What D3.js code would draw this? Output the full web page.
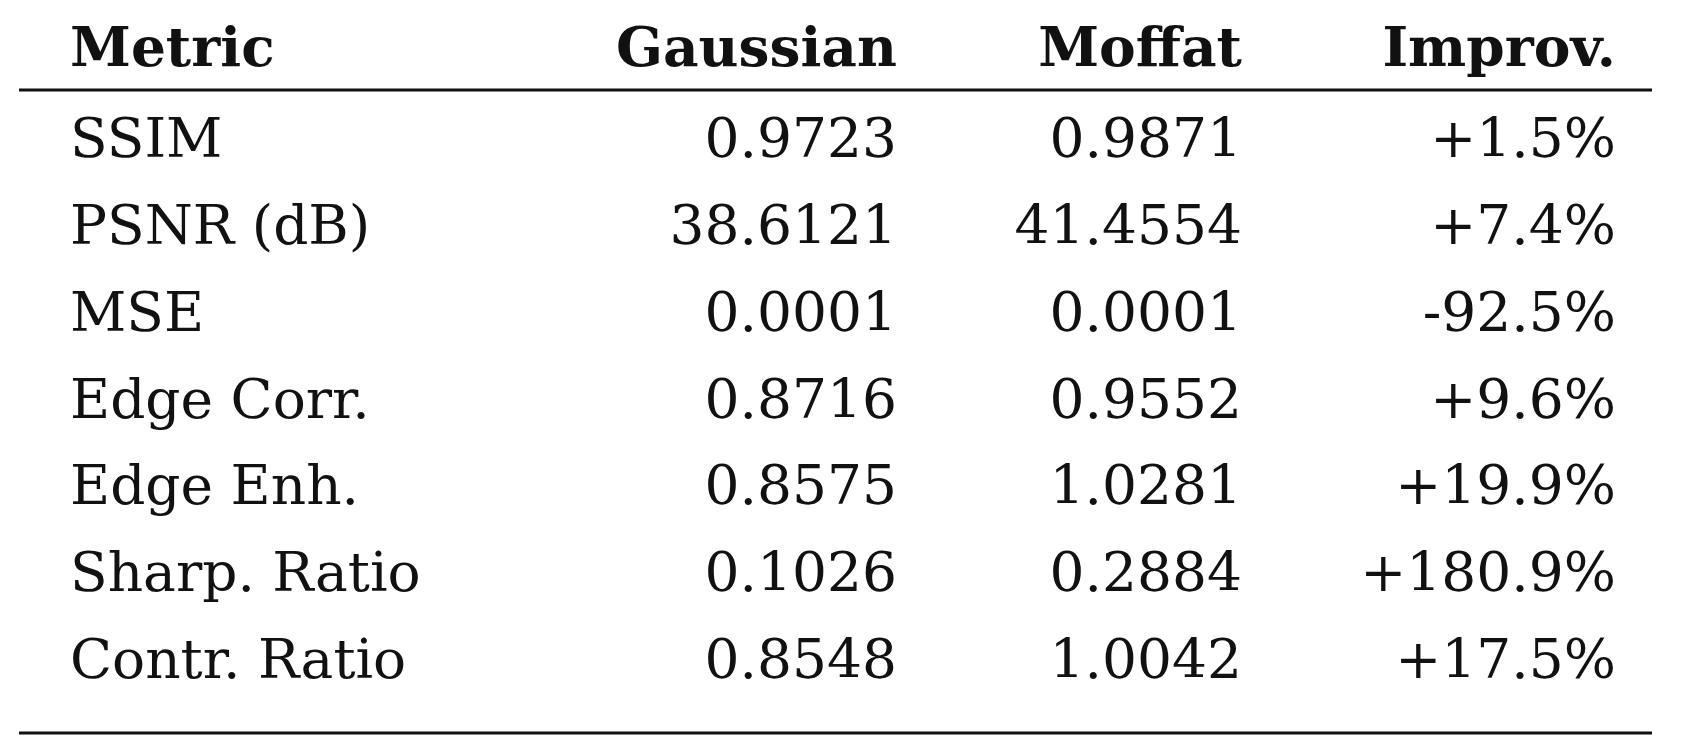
<!DOCTYPE html>
<html>
<head>
<meta charset="utf-8">
<script src="https://cdn.jsdelivr.net/npm/d3@7"></script>
<style>
  body { margin: 0; background: #fff; }
  text { font-family: "DejaVu Serif", "Liberation Serif", serif; fill: #111; }
</style>
</head>
<body>
<div id="table"></div>
<script>
const headers = ['Metric', 'Gaussian', 'Moffat', 'Improv.'];
const metrics = ['SSIM', 'PSNR (dB)', 'MSE', 'Edge Corr.', 'Edge Enh.', 'Sharp. Ratio', 'Contr. Ratio'];
const gaussian = ['0.9723', '38.6121', '0.0001', '0.8716', '0.8575', '0.1026', '0.8548'];
const moffat = ['0.9871', '41.4554', '0.0001', '0.9552', '1.0281', '0.2884', '1.0042'];
const improv = ['+1.5%', '+7.4%', '-92.5%', '+9.6%', '+19.9%', '+180.9%', '+17.5%'];

const width = 1681, height = 751;
const svg = d3.select('#table').append('svg')
    .attr('width', width)
    .attr('height', height);

// column anchors: first left-aligned, rest right-aligned
const colX = [70, 897, 1242, 1616];
const anchor = ['start', 'end', 'end', 'end'];
const fontSize = 55;

const y = d3.scalePoint()
    .domain(d3.range(metrics.length))
    .range([157, 678]);

svg.selectAll('.head')
    .data(headers)
    .enter().append('text')
    .attr('x', (d, i) => colX[i])
    .attr('y', 66)
    .attr('text-anchor', (d, i) => anchor[i])
    .style('font-size', fontSize + 'px')
    .style('font-weight', 'bold')
    .text(d => d);

const rows = metrics.map((m, i) => [m, gaussian[i], moffat[i], improv[i]]);

const rowG = svg.selectAll('.row')
    .data(rows)
    .enter().append('g')
    .attr('transform', (d, i) => `translate(0,${y(i)})`);

rowG.selectAll('text')
    .data(d => d)
    .enter().append('text')
    .attr('x', (d, i) => colX[i])
    .attr('text-anchor', (d, i) => anchor[i])
    .style('font-size', fontSize + 'px')
    .text(d => d);

// rules
[90, 733].forEach(ry => {
    svg.append('line')
        .attr('x1', 19).attr('x2', 1652)
        .attr('y1', ry).attr('y2', ry)
        .attr('stroke', '#111')
        .attr('stroke-width', 3);
});
</script>
</body>
</html>
